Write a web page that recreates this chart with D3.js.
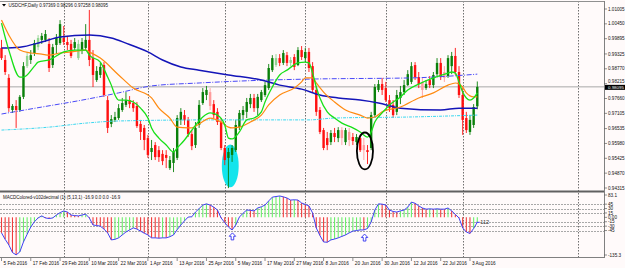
<!DOCTYPE html>
<html>
<head>
<meta charset="utf-8">
<script src="https://cdn.jsdelivr.net/npm/d3@7"></script>
<style>
  body { margin: 0; background: #fffafa; }
  svg { display: block; font-family: "Liberation Sans", Arial, sans-serif; }
</style>
</head>
<body>
<svg id="chart" width="625" height="268"></svg>
<script>
// Candles, one per trading day from 5 Feb 2016 (bar 0) to 5 Aug 2016 (bar 130)
const opens = [
  .9955,.9910,.9843,.9723,.9738,.9723,.9772,.9887,.9910,.9936,
  .9958,.9985,.9985,.9970,.9891,.9966,.9973,.9992,.9977,.9970,
  .9955,.9917,.9947,.9955,.9985,.9917,.9835,.9854,.9891,.9760,
  .9671,.9686,.9693,.9723,.9742,.9760,.9749,.9738,.9671,.9656,
  .9618,.9566,.9592,.9573,.9559,.9555,.9506,.9525,.9544,.9686,
  .9704,.9686,.9633,.9592,.9667,.9749,.9779,.9790,.9745,.9716,
  .9678,.9581,.9544,.9555,.9573,.9659,.9704,.9716,.9745,.9768,
  .9730,.9760,.9779,.9805,.9872,.9891,.9917,.9899,.9928,.9899,
  .9921,.9891,.9947,.9917,.9940,.9887,.9798,.9723,.9648,.9618,
  .9603,.9637,.9618,.9648,.9603,.9641,.9622,.9603,.9618,.9592,
  .9573,.9581,.9704,.9798,.9820,.9805,.9760,.9742,.9716,.9768,
  .9790,.9816,.9828,.9891,.9846,.9828,.9805,.9835,.9816,.9857,
  .9899,.9865,.9850,.9887,.9925,.9865,.9779,.9693,.9641,.9667,
  .97369
];
const highs = [
  .9985,.9928,.9857,.9745,.9760,.9779,.9902,.9940,.9947,.9985,
  1.0003,1.0011,1.0022,.9992,.9970,1.0007,1.0059,1.0037,1.0000,.9985,
  .9992,.9985,.9992,1.0044,1.0097,.9947,.9887,.9899,.9902,.9775,
  .9704,.9716,.9745,.9768,.9790,.9775,.9760,.9753,.9686,.9667,
  .9630,.9611,.9603,.9588,.9573,.9573,.9551,.9581,.9704,.9730,
  .9723,.9697,.9648,.9678,.9760,.9805,.9813,.9805,.9760,.9730,
  .9693,.9592,.9581,.9592,.9686,.9723,.9738,.9768,.9783,.9783,
  .9783,.9798,.9828,.9895,.9928,.9932,.9932,.9947,.9940,.9921,
  .9932,.9958,.9962,.9955,.9955,.9902,.9813,.9734,.9656,.9641,
  .9648,.9656,.9659,.9659,.9656,.9656,.9637,.9633,.9630,.9618,
  .9592,.9716,.9820,.9835,.9843,.9828,.9779,.9760,.9798,.9813,
  .9835,.9872,.9902,.9902,.9865,.9843,.9835,.9850,.9865,.9917,
  .9917,.9887,.9928,.9940,.9955,.9887,.9805,.9716,.9704,.9745,
  .98296
];
const lows = [
  .9910,.9854,.9716,.9712,.9656,.9716,.9764,.9880,.9895,.9925,
  .9947,.9970,.9977,.9865,.9880,.9932,.9966,.9966,.9947,.9917,
  .9947,.9910,.9932,.9947,.9887,.9809,.9828,.9843,.9772,.9637,
  .9659,.9678,.9686,.9716,.9734,.9730,.9716,.9656,.9611,.9573,
  .9544,.9536,.9536,.9529,.9517,.9506,.9499,.9491,.9536,.9667,
  .9667,.9622,.9573,.9581,.9656,.9742,.9760,.9723,.9693,.9667,
  .9573,.9517,.9431,.9529,.9566,.9648,.9686,.9693,.9730,.9716,
  .9704,.9753,.9772,.9798,.9865,.9884,.9887,.9891,.9887,.9887,
  .9872,.9887,.9910,.9902,.9865,.9790,.9701,.9633,.9573,.9573,
  .9592,.9603,.9603,.9592,.9592,.9588,.9592,.9592,.9566,.9536,
  .9521,.9573,.9697,.9790,.9779,.9753,.9716,.9693,.9704,.9745,
  .9779,.9813,.9820,.9835,.9805,.9768,.9798,.9805,.9805,.9850,
  .9835,.9828,.9843,.9857,.9854,.9768,.9630,.9637,.9630,.9656,
  .97258
];
const closes = [
  .9917,.9865,.9730,.9738,.9723,.9772,.9887,.9925,.9928,.9973,
  .9992,1.0000,1.0007,.9880,.9958,.9992,1.0044,.9977,.9966,.9925,
  .9977,.9970,.9977,.9985,.9910,.9854,.9869,.9884,.9779,.9656,
  .9689,.9697,.9730,.9749,.9760,.9745,.9730,.9663,.9641,.9611,
  .9555,.9581,.9547,.9547,.9532,.9544,.9536,.9566,.9693,.9716,
  .9686,.9633,.9588,.9656,.9742,.9790,.9798,.9738,.9704,.9678,
  .9581,.9536,.9566,.9581,.9667,.9712,.9723,.9753,.9768,.9730,
  .9772,.9790,.9816,.9880,.9917,.9917,.9899,.9936,.9899,.9910,
  .9884,.9947,.9921,.9940,.9880,.9798,.9716,.9641,.9581,.9592,
  .9637,.9622,.9648,.9618,.9648,.9611,.9607,.9622,.9573,.9573,
  .9566,.9704,.9809,.9820,.9798,.9760,.9730,.9704,.9779,.9790,
  .9816,.9857,.9887,.9846,.9820,.9798,.9820,.9816,.9854,.9899,
  .9846,.9843,.9917,.9925,.9865,.9779,.9686,.9648,.9686,.9734,
  .98095
];
// bars drawn in the pale shade
const paleBars = [7, 10, 21, 57, 75, 79, 93, 95, 99, 115, 121];

// Moving averages as [bar, price]
const fastMA = [[0,1.0048],[2,.9947],[5,.9846],[6,.9846],[9,.9887],[10,.9902],[13,.9910],[17,.9940],[20,.9947],[23,.9947],[24,.9928],[27,.9902],[29,.9846],[30,.9816],[31,.9779],[32,.9760],[34,.9760],[36,.9753],[38,.9730],[40,.9693],[41,.9656],[43,.9618],[45,.9592],[47,.9566],[48,.9581],[50,.9611],[52,.9648],[55,.9697],[57,.9712],[59,.9704],[61,.9667],[62,.9618],[63,.9615],[65,.9641],[67,.9686],[69,.9693],[71,.9716],[72,.9753],[74,.9809],[76,.9854],[78,.9872],[81,.9899],[83,.9902],[84,.9899],[85,.9861],[86,.9809],[87,.9768],[89,.9716],[91,.9693],[93,.9674],[96,.9656],[98,.9641],[100,.9622],[101,.9641],[102,.9678],[104,.9712],[106,.9742],[109,.9772],[111,.9798],[114,.9820],[118,.9843],[122,.9861],[123,.9865],[124,.9861],[125,.9828],[126,.9790],[127,.9768],[128,.9760],[129,.9768],[130,.9787]];
const midMA = [[0,1.0059],[2,1.0003],[5,.9947],[8,.9936],[11,.9932],[13,.9928],[16,.9936],[19,.9940],[23,.9947],[24,.9940],[27,.9917],[32,.9854],[36,.9805],[41,.9768],[43,.9730],[46,.9693],[48,.9659],[51,.9656],[52,.9656],[54,.9671],[57,.9693],[60,.9678],[62,.9659],[63,.9656],[65,.9659],[68,.9678],[71,.9704],[73,.9742],[76,.9779],[80,.9805],[82,.9828],[83,.9843],[85,.9843],[86,.9824],[88,.9790],[91,.9753],[94,.9723],[98,.9704],[100,.9693],[102,.9697],[104,.9716],[109,.9734],[114,.9768],[118,.9787],[122,.9816],[124,.9824],[126,.9809],[127,.9787],[129,.9772],[130,.9772]];
const slowMA = [[0,.9955],[5,.9958],[11,.9977],[16,.9996],[24,1.0003],[30,.9992],[34,.9973],[40,.9940],[44,.9910],[49,.9884],[54,.9872],[62,.9854],[71,.9835],[76,.9816],[82,.9801],[87,.9779],[92,.9768],[98,.9760],[103,.9749],[109,.9730],[120,.9723],[125,.9730],[130,.9730]];
const longMA = [[0,.9708],[11,.9734],[22,.9760],[32,.9787],[41,.9813],[54,.9824],[73,.9835],[86,.9839],[112,.9843],[130,.9857]];
const longestMA = [[0,.9648],[13,.9659],[23,.9674],[32,.9682],[57,.9686],[84,.9686],[91,.9693],[112,.9697],[130,.9704]];

// MACD histogram, one value per bar
const macd = [
  -53,-75,-94,-120,-128,-118,-84,-58,-33,-15,
  -2,5,-2,-4,-2,8,16,22,18,8,
  6,5,8,11,-2,-26,-28,-30,-40,-53,
  -77,-75,-70,-60,-50,-43,-36,-40,-47,-54,
  -60,-70,-70,-71,-70,-70,-66,-60,-42,-26,
  -12,1,2,18,30,42,46,42,35,25,
  -2,-18,-33,-43,-26,1,14,25,24,22,
  32,36,42,56,69,71,73,70,66,59,
  60,59,49,44,39,15,-36,-62,-84,-85,
  -77,-74,-70,-65,-60,-53,-47,-45,-43,-43,
  -38,-16,25,46,45,42,25,20,18,22,
  25,35,52,48,39,32,28,29,28,29,
  28,28,32,22,10,-2,-36,-50,-55,-38,
  -16.9
];
const macdLevels = [45, 30, 15, -15, -30, -45];
const macdTicks = ['83.1', '45', '30', '15', '0.00', '-15', '-30', '-45', '-135.3'];
const macdTickValues = [83.1, 45, 30, 15, 0, -15, -30, -45, -135.3];

// Axis labels
const priceTicks = [1.01005, 1.00450, 0.99895, 0.99325, 0.98770, 0.98215, 0.97660, 0.97105, 0.96535, 0.95980, 0.95425, 0.94870, 0.94315];
const dateLabels = ['5 Feb 2016', '17 Feb 2016', '29 Feb 2016', '10 Mar 2016', '22 Mar 2016', '1 Apr 2016', '13 Apr 2016', '25 Apr 2016', '5 May 2016', '17 May 2016', '27 May 2016', '8 Jun 2016', '20 Jun 2016', '30 Jun 2016', '12 Jul 2016', '22 Jul 2016', '3 Aug 2016'];
const dateBars = [0, 8, 16, 24, 32, 40, 48, 56, 64, 72, 80, 88, 96, 104, 112, 120, 128];
const separatorBars = [17, 40, 61, 83, 105, 126, 157.5];

// Annotations: [bar, price, barRadius, priceRadius]
const cyanMark = [62.5, 0.9514, 2.3, 0.0080];
const blackMark = [99.3, 0.9570, 2.2, 0.0069];
const arrowBars = [63.1, 99.2];
const arrowValues = [-53, -57];

const lastPrice = 0.98095;
const title = 'USDCHF,Daily  0.97369 0.98296 0.97258 0.98095';
const macdTitle = 'MACDColored-v102decimal (1) (5,13,1) -16.9 0.0 0.0 -16.9';

// Layout
const PLOT_RIGHT = 604;
const MAIN_TOP = 1, MAIN_BOTTOM = 191;
const SUB_TOP = 193, SUB_BOTTOM = 258;

const svg = d3.select('#chart');
const x = d3.scaleLinear().domain([0, 130]).range([1.5, 477.3]);
const y = d3.scaleLinear().domain([0.94315, 1.01005]).range([188, 9]);
const ym = d3.scaleLinear().domain([-135.3, 83.1]).range([257, 193]);

svg.append('rect').attr('width', 625).attr('height', 268).attr('fill', '#fffafa');

// Period separators in both panes
svg.append('g').selectAll('line')
  .data(separatorBars).enter().append('line')
  .attr('x1', d => Math.round(x(d)) + 0.5).attr('x2', d => Math.round(x(d)) + 0.5)
  .attr('y1', MAIN_TOP).attr('y2', SUB_BOTTOM)
  .attr('stroke', '#707070').attr('stroke-width', 1).attr('stroke-dasharray', '1.5,1.5');

// Current price line
svg.append('line')
  .attr('x1', 0).attr('x2', PLOT_RIGHT)
  .attr('y1', y(lastPrice)).attr('y2', y(lastPrice))
  .attr('stroke', '#a8a8a8').attr('stroke-width', 1);

// Cyan filled ellipse behind the candles
svg.append('ellipse')
  .attr('cx', x(cyanMark[0])).attr('cy', y(cyanMark[1]))
  .attr('rx', x(cyanMark[0] + cyanMark[2]) - x(cyanMark[0]))
  .attr('ry', y(cyanMark[1] - cyanMark[3]) - y(cyanMark[1]))
  .attr('fill', '#14e4ec');

// Candles
const bars = d3.range(opens.length);
function candleColor(i) {
  const up = closes[i] >= opens[i];
  const pale = paleBars.includes(i);
  if (up) return pale ? '#8fd48f' : '#0a800a';
  return pale ? '#ff9c9c' : '#ff1010';
}
const candleG = svg.append('g');
candleG.selectAll('line.wick')
  .data(bars).enter().append('line')
  .attr('class', 'wick')
  .attr('x1', i => x(i)).attr('x2', i => x(i))
  .attr('y1', i => y(highs[i])).attr('y2', i => y(lows[i]))
  .attr('stroke', candleColor).attr('stroke-width', 0.9);
candleG.selectAll('rect.body')
  .data(bars).enter().append('rect')
  .attr('class', 'body')
  .attr('x', i => x(i) - 1.2)
  .attr('width', 2.4)
  .attr('y', i => y(Math.max(opens[i], closes[i])))
  .attr('height', i => Math.max(0.8, Math.abs(y(opens[i]) - y(closes[i]))))
  .attr('fill', candleColor);

// Moving averages
const maLine = d3.line().x(d => x(d[0])).y(d => y(d[1])).curve(d3.curveMonotoneX);
svg.append('path').attr('d', maLine(longestMA)).attr('fill', 'none')
  .attr('stroke', '#3cd8f0').attr('stroke-width', 1).attr('stroke-dasharray', '3,1,1,1');
svg.append('path').attr('d', maLine(longMA)).attr('fill', 'none')
  .attr('stroke', '#4848f8').attr('stroke-width', 1).attr('stroke-dasharray', '5,1.5,1,1.5');
svg.append('path').attr('d', maLine(slowMA)).attr('fill', 'none')
  .attr('stroke', '#1414b8').attr('stroke-width', 1.5);
svg.append('path').attr('d', maLine(midMA)).attr('fill', 'none')
  .attr('stroke', '#ff8a10').attr('stroke-width', 1.2);
svg.append('path').attr('d', maLine(fastMA)).attr('fill', 'none')
  .attr('stroke', '#18e018').attr('stroke-width', 1.3);

// Black ellipse outline
svg.append('ellipse')
  .attr('cx', x(blackMark[0])).attr('cy', y(blackMark[1]))
  .attr('rx', x(blackMark[0] + blackMark[2]) - x(blackMark[0]))
  .attr('ry', y(blackMark[1] - blackMark[3]) - y(blackMark[1]))
  .attr('fill', 'none').attr('stroke', '#000').attr('stroke-width', 1.8);

// MACD levels
svg.append('g').selectAll('line')
  .data(macdLevels).enter().append('line')
  .attr('x1', 0).attr('x2', PLOT_RIGHT)
  .attr('y1', d => Math.round(ym(d)) + 0.5).attr('y2', d => Math.round(ym(d)) + 0.5)
  .attr('stroke', '#a8a8a8').attr('stroke-width', 1).attr('stroke-dasharray', '2,1');

// MACD histogram, green when rising, red when falling
svg.append('g').selectAll('line')
  .data(bars).enter().append('line')
  .attr('x1', i => x(i)).attr('x2', i => x(i))
  .attr('y1', ym(0)).attr('y2', i => ym(macd[i]))
  .attr('stroke', i => (i > 0 && macd[i] > macd[i - 1]) ? '#6cee6c' : '#f03c3c')
  .attr('stroke-width', 1.1);

// MACD line
svg.append('path')
  .attr('d', d3.line().x(i => x(i)).y(i => ym(macd[i]))(bars))
  .attr('fill', 'none').attr('stroke', '#4040f4').attr('stroke-width', 1);

// Up arrows under the MACD
const arrowPath = 'M0,0 L3.2,3.4 L1.3,3.4 L1.3,7 L-1.3,7 L-1.3,3.4 L-3.2,3.4 Z';
svg.append('g').selectAll('path')
  .data(arrowBars).enter().append('path')
  .attr('d', arrowPath)
  .attr('transform', (d, k) => `translate(${x(d)},${ym(arrowValues[k])})`)
  .attr('fill', '#fff').attr('stroke', '#3030f0').attr('stroke-width', 0.9);

// Value tag at the end of the MACD
const lastBar = bars.length - 1;
svg.append('line')
  .attr('x1', x(lastBar) - 1).attr('x2', x(lastBar) + 2.5)
  .attr('y1', ym(macd[lastBar])).attr('y2', ym(macd[lastBar]))
  .attr('stroke', '#4040f4').attr('stroke-width', 1);
svg.append('text')
  .attr('x', x(lastBar) + 3).attr('y', ym(macd[lastBar]) + 2)
  .attr('font-size', '5.6px').attr('fill', '#333')
  .text('112');

// Frame
svg.append('line').attr('x1', 0).attr('x2', PLOT_RIGHT).attr('y1', 1.5).attr('y2', 1.5)
  .attr('stroke', '#909090');
svg.append('line').attr('x1', 0).attr('x2', PLOT_RIGHT).attr('y1', MAIN_BOTTOM + 0.5).attr('y2', MAIN_BOTTOM + 0.5)
  .attr('stroke', '#606060').attr('stroke-width', 2);
svg.append('line').attr('x1', 0).attr('x2', PLOT_RIGHT).attr('y1', SUB_BOTTOM - 0.5).attr('y2', SUB_BOTTOM - 0.5)
  .attr('stroke', '#808080');
svg.append('line').attr('x1', PLOT_RIGHT + 0.5).attr('x2', PLOT_RIGHT + 0.5).attr('y1', 1).attr('y2', SUB_BOTTOM)
  .attr('stroke', '#808080');

// Price axis (the label just above the price box is nudged up so they do not collide)
const boxTop = y(lastPrice) - 2;
const priceAxis = svg.append('g').attr('font-size', '4.6px').attr('fill', '#111');
priceTicks.forEach(p => {
  const ty = Math.abs(y(p) - y(lastPrice)) < 6 ? Math.min(y(p), boxTop - 3) : y(p);
  priceAxis.append('line')
    .attr('x1', PLOT_RIGHT).attr('x2', PLOT_RIGHT + 3)
    .attr('y1', y(p)).attr('y2', y(p)).attr('stroke', '#606060').attr('stroke-width', 0.7);
  priceAxis.append('text')
    .attr('x', PLOT_RIGHT + 4).attr('y', ty + 1.6)
    .text(p.toFixed(5));
});
svg.append('rect')
  .attr('x', PLOT_RIGHT + 1).attr('y', boxTop)
  .attr('width', 21).attr('height', 5).attr('fill', '#000');
svg.append('text')
  .attr('x', PLOT_RIGHT + 4).attr('y', boxTop + 4)
  .attr('font-size', '4.4px').attr('fill', '#fff')
  .text(lastPrice.toFixed(5));

// MACD axis
const macdAxis = svg.append('g').attr('font-size', '4.6px').attr('fill', '#111');
macdTickValues.forEach((v, k) => {
  const ty = Math.min(255, Math.max(195, ym(v)));
  macdAxis.append('line')
    .attr('x1', PLOT_RIGHT).attr('x2', PLOT_RIGHT + 3)
    .attr('y1', ty).attr('y2', ty).attr('stroke', '#606060').attr('stroke-width', 0.7);
  macdAxis.append('text')
    .attr('x', PLOT_RIGHT + 4).attr('y', ty + 1.6)
    .text(macdTicks[k]);
});

// Date axis
const dateAxis = svg.append('g').attr('font-size', '4.7px').attr('fill', '#111');
dateBars.forEach((b, k) => {
  dateAxis.append('line')
    .attr('x1', x(b)).attr('x2', x(b))
    .attr('y1', SUB_BOTTOM).attr('y2', SUB_BOTTOM + 3)
    .attr('stroke', '#606060').attr('stroke-width', 0.7);
  dateAxis.append('text')
    .attr('x', x(b) + 2).attr('y', 264.5)
    .text(dateLabels[k]);
});

// Titles
svg.append('path').attr('d', 'M2,4 L6,4 L4,6.5 Z').attr('fill', '#000');
svg.append('text').attr('x', 8.5).attr('y', 7).attr('font-size', '4.5px').attr('fill', '#111').text(title);
svg.append('text').attr('x', 3).attr('y', 198.5).attr('font-size', '4.5px').attr('fill', '#111').text(macdTitle);
</script>
</body>
</html>
